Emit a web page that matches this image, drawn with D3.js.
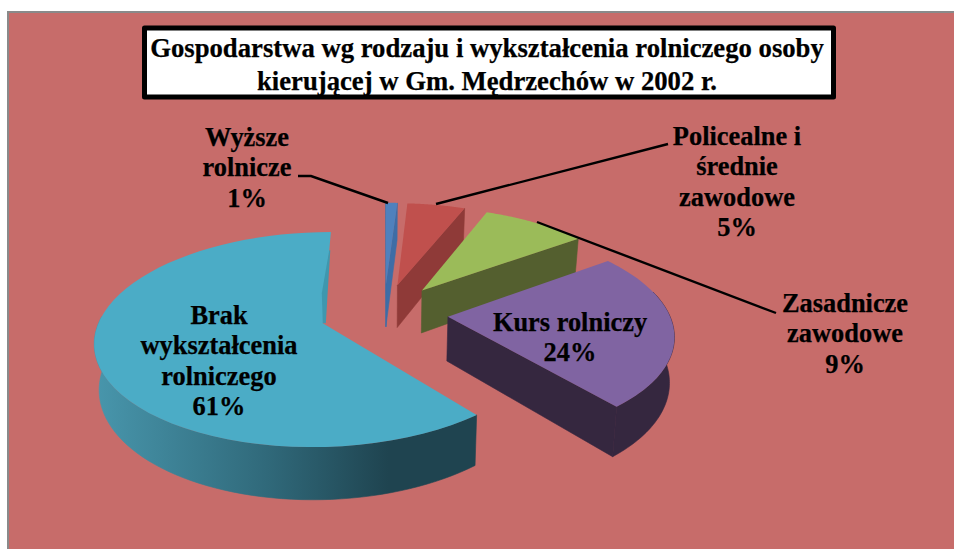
<!DOCTYPE html>
<html><head><meta charset="utf-8">
<script src="https://cdnjs.cloudflare.com/ajax/libs/d3/7.8.5/d3.min.js"></script>
<style>html,body{margin:0;padding:0;background:#fff;overflow:hidden}svg{display:block}text{font-family:"Liberation Serif",serif;font-weight:bold;fill:#000;stroke:#000;stroke-width:.25px}</style>
</head><body><svg id="c" width="954" height="549"></svg>
<script>
const categories = ["Wyższe rolnicze","Policealne i średnie zawodowe","Zasadnicze zawodowe","Kurs rolniczy","Brak wykształcenia rolniczego"];
const values = [1,5,9,24,61];
const topColors = ["#4F81BD","#C0504D","#9BBB59","#8064A2","#4BACC6"];
const wallColors = ["#3E6DA6","#8F3A38","#545F2F","#35273F","url(#cy)"];
const titleLines = ["Gospodarstwa wg rodzaju i wykształcenia rolniczego osoby","kierującej w Gm. Mędrzechów w 2002 r."];
const labelLines = [["Wyższe","rolnicze","1%"],["Policealne i","średnie","zawodowe","5%"],["Zasadnicze","zawodowe","9%"],["Kurs rolniczy","24%"],["Brak","wykształcenia","rolniczego","61%"]];
const labelAnchors = [[247,146],[737,145],[845,312],[570,331],[219,324]];
const leaders = [[[298,176],[311,176],[388,203]],[[668,144],[436,204]],[[537,222],[776,313]],[],[]];

const svg = d3.select("#c");
const W=954,H=549;
svg.append("rect").attr("width",W).attr("height",H).attr("fill","#fff");
svg.append("rect").attr("x",8).attr("y",12).attr("width",W).attr("height",H).attr("fill","#C76C6A").attr("stroke","#8a8a8a").attr("stroke-width",2);

const defs=svg.append("defs");
const g=defs.append("linearGradient").attr("id","cy").attr("gradientUnits","userSpaceOnUse").attr("x1",95).attr("x2",440).attr("y1",0).attr("y2",0);
[[0,"#4896AC"],[0.5,"#30697A"],[0.85,"#1F4450"],[1,"#1F4450"]].forEach(s=>g.append("stop").attr("offset",s[0]).attr("stop-color",s[1]));

// projection of the tilted disc
const cx=384,cy=313,Rx=221,Ry=102,k=0.15,explode=0.29,depth=44,zShrink=0.017;
const sc=Y=>1/(1-k*Y);
const proj=(X,Y,z=0)=>{const s=sc(Y);return [cx+Rx*X*s*(1-z*zShrink), cy+Ry*Y*s+z*depth*s];};
const line=d3.line();
const pie=d3.pie().sort(null).value(d=>d).startAngle(0).endAngle(2*Math.PI)(values);

pie.forEach((d,i)=>{
  const mid=(d.startAngle+d.endAngle)/2;
  const ox=explode*Math.sin(mid), oy=-explode*Math.cos(mid);
  const P=(a,z=0,r=1)=>proj(ox+r*Math.sin(a),oy-r*Math.cos(a),z);
  const sl=svg.append("g");
  const arcA=(a0,a1,z)=>d3.range(0,61).map(t=>P(a0+(a1-a0)*t/60,z));
  const wall=dStr=>sl.append("path").attr("fill",wallColors[i]).attr("stroke",wallColors[i]).attr("stroke-width",0.6).attr("d",dStr);
  // cut wall at the clockwise end of the slice
  if(i<4) wall(line([P(d.endAngle),P(0,0,0),P(0,1,0),P(d.endAngle,1)])+"Z");
  // outer rounded wall
  const a0=Math.max(d.startAngle,Math.PI*0.42), a1=Math.min(d.endAngle,Math.PI*1.52);
  if(a1>a0) wall(line(arcA(a0,a1,0).concat(arcA(a1,a0,1)))+"Z");
  if(i===0) wall(line([P(d.startAngle),P(0,0,0),P(0,1,0)])+"Z");
  sl.append("path").attr("fill",topColors[i]).attr("d",line([P(0,0,0)].concat(arcA(d.startAngle,d.endAngle,0)))+"Z");
  if(i===4){
    const e=P(d.endAngle), c=P(0,0,0);
    const f=t=>[e[0]+(c[0]-e[0])*t,e[1]+(c[1]-e[1])*t];
    const p1=f(0.2), p2=f(1);
    sl.append("path").attr("fill","#3F97AE").attr("d",line([p1,[p1[0]+1,p1[1]],[p2[0]+3,p2[1]],[p2[0],p2[1]],[p2[0]-1,p2[1]-30]])+"Z");
  }
});

// leaders
leaders.forEach(l=>{if(l.length)svg.append("path").attr("d",line(l)).attr("fill","none").attr("stroke","#000").attr("stroke-width",2.4);});

// labels
labelLines.forEach((ls,i)=>{
  const t=svg.append("text").attr("text-anchor","middle").attr("font-size",26.4);
  ls.forEach((s,j)=>t.append("tspan").attr("x",labelAnchors[i][0]).attr("y",labelAnchors[i][1]+j*30.4).text(s));
});

// title
svg.append("rect").attr("x",144.5).attr("y",28).attr("width",689).attr("height",69).attr("fill","#fff").attr("stroke","#000").attr("stroke-width",5).attr("stroke-linejoin","round");
titleLines.forEach((s,j)=>svg.append("text").attr("x",487).attr("y",[57,90][j]).attr("text-anchor","middle").attr("font-size",26.7).text(s));
</script></body></html>
